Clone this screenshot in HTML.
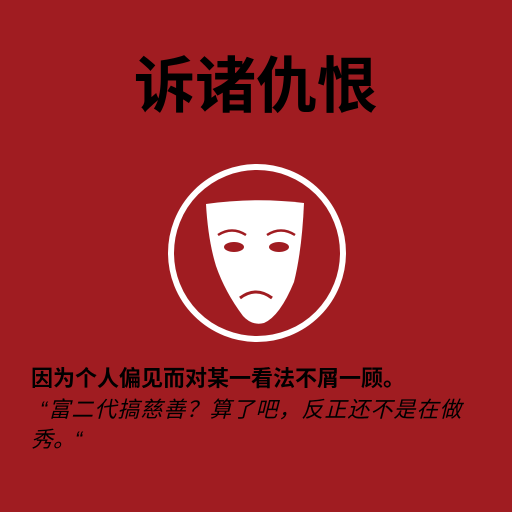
<!DOCTYPE html>
<html><head><meta charset="utf-8">
<style>
html,body{margin:0;padding:0}
body{width:512px;height:512px;background:#a01c21;position:relative;overflow:hidden;font-family:"Liberation Sans","Noto Sans CJK SC",sans-serif}
.title{position:absolute;left:0;width:512px;top:53px;text-align:center;font-size:61px;font-weight:bold;color:#000;line-height:66px}
.t{position:absolute;left:31px;font-size:22px;white-space:nowrap;color:#000;line-height:26px}
</style></head>
<body>
<div class="title">诉诸仇恨</div>
<svg style="position:absolute;left:0;top:0" width="512" height="512">
<circle cx="257" cy="253" r="86" fill="none" stroke="#fff" stroke-width="6"/>
<path d="M206,204 Q255,197 304,203 Q302,250 294,282 Q280,316 264,323 Q252,326 243,316 Q225,292 216,266 Q208,240 206,204 Z" fill="#fff"/>
<ellipse cx="234" cy="247" rx="10" ry="5" fill="#a01c21"/>
<ellipse cx="279" cy="247" rx="10" ry="5" fill="#a01c21"/>
<path d="M218,235 Q232,226 246,235" fill="none" stroke="#a01c21" stroke-width="2.5"/>
<path d="M267,235 Q281,226 295,235" fill="none" stroke="#a01c21" stroke-width="2.5"/>
<path d="M240,298 Q256,286 272,298" fill="none" stroke="#a01c21" stroke-width="3"/>
</svg>
<div class="t" style="top:366px;font-weight:bold">因为个人偏见而对某一看法不屑一顾。</div>
<div class="t" style="top:397px;left:40px;font-style:italic;letter-spacing:1px">“富二代搞慈善？算了吧，反正还不是在做</div>
<div class="t" style="top:427px;font-style:italic">秀。“</div>
</body></html>
